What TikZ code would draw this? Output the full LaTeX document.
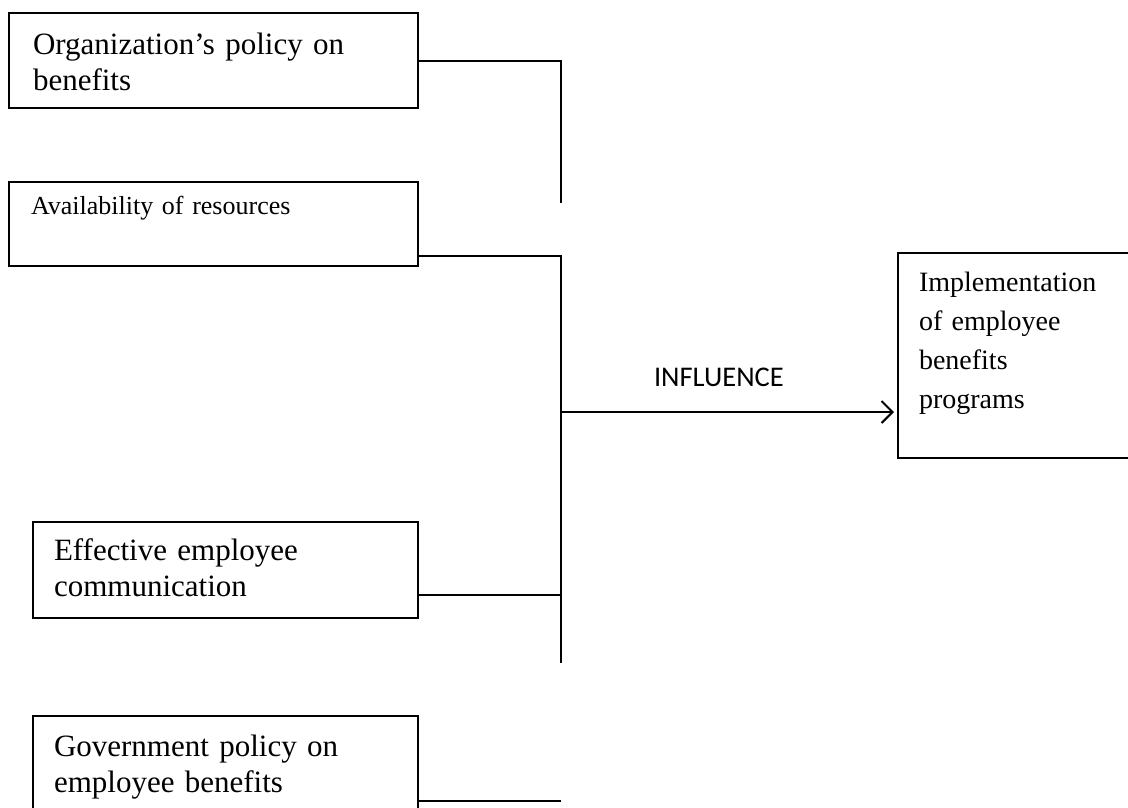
\documentclass[tikz,border=0pt]{standalone}
\usepackage{fontspec}
\setmainfont{Liberation Serif}
\newfontfamily\calibrifont{Carlito}
\usetikzlibrary{arrows.meta}

\begin{document}
\begin{tikzpicture}
		[x=1pt,y=-1pt,line width=2pt,
		factor node/.style={shape=rectangle,draw,anchor=north west,align=left,inner ysep=0pt,font=\fontsize{31}{36}\selectfont},
		small node/.style={factor node,font=\fontsize{26}{30}\selectfont},
		result node/.style={factor node,font=\fontsize{28}{39}\selectfont}
		]
		
		\path[use as bounding box,clip] (0,0) rectangle (1128,807);
		
		\node [factor node][inner xsep=24pt,text width=361pt,text height=41pt,text depth=54pt] (org) at (8,12) {Organization’s policy on\\benefits};
		\node [small node][inner xsep=22pt,text width=365pt,text height=32pt,text depth=52pt] (res) at (8,181) {Availability of resources};
		\node [factor node][inner xsep=21pt,text width=343pt,text height=38pt,text depth=58pt] (com) at (32,521) {Effective employee\\communication};
		\node [factor node][inner xsep=21pt,text width=343pt,text height=40pt,text depth=75pt] (gov) at (32,715) {Government policy on\\employee benefits};
		
		\node [result node][inner xsep=21pt,text width=201pt,text height=38pt,text depth=167pt] (impl) at (897,252) {Implementation\\of employee\\benefits\\programs};
		
		\coordinate (top end) at (561,203);
		\coordinate (bottom end) at (561,663);
		\coordinate (hub) at (561,412);
		\coordinate (res out) at ([yshift=11pt]res.south east);
		\coordinate (com out) at ([yshift=24pt]com.south east);
		\coordinate (gov out) at ([yshift=-86pt]gov.north east);
		\coordinate (impl in) at (hub -| impl.west);
		
		\draw (org.east) -| (top end);
		\draw (res out) -| (bottom end);
		\draw (com out) -- (com out -| hub);
		\draw (gov out) -- (gov out -| hub);
		
		\path
		(hub) edge[-{Straight Barb[length=11pt,width=22pt]},shorten >=3pt] node[pos=.47,above=21pt,font=\calibrifont\fontsize{28.5}{30}\selectfont] {INFLUENCE} (impl in)
		;
		
\end{tikzpicture}
\end{document}
